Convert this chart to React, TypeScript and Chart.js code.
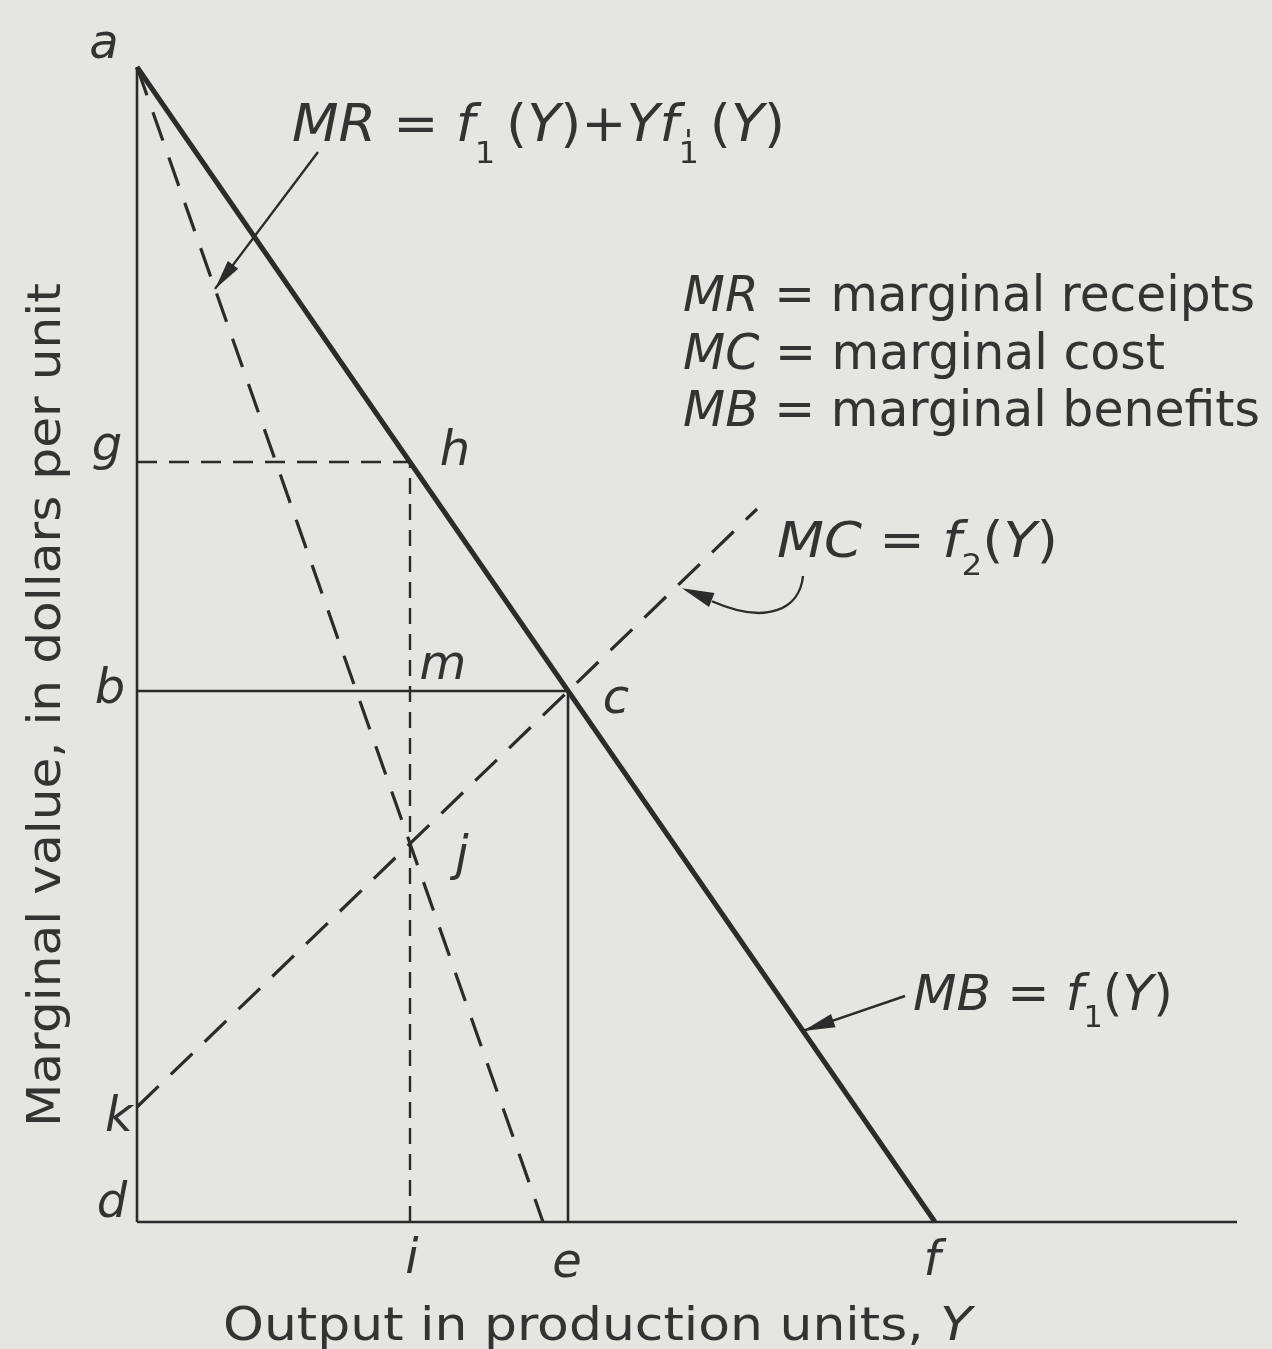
import React, { useEffect, useRef } from "react";
import { Chart, registerables } from "chart.js";

Chart.register(...registerables);

// Straight-line schedules (output Y on x, dollars per unit on y)
const MB_X = [0, 7.98]; // marginal benefits, MB = f1(Y)
const MB_Y = [11.55, 0];
const MR_X = [0, 4.06]; // marginal receipts, MR = f1(Y) + Y f1'(Y)
const MR_Y = [11.55, 0];
const MC_X = [0, 6.2]; // marginal cost, MC = f2(Y)
const MC_Y = [1.15, 7.13];

// Reference levels: g (price at h), b (price at c); outputs i and e
const PRICE_G = 7.6;
const PRICE_B = 5.31;
const OUTPUT_I = 2.73;
const OUTPUT_E = 4.31;

const AXIS_X_END = 11;
const AXIS_Y_TOP = 11.55;

const LEGEND_ROWS = [
  ["MR", "marginal receipts"],
  ["MC", "marginal cost"],
  ["MB", "marginal benefits"],
];

const BG = "#e5e5e2";
const INK = "#2b2b2b";
const TEXT_INK = "#333333";
const FONT = '"DejaVu Sans"';

type Seg = { t: string; it?: boolean; sub?: boolean; sup?: boolean; stack?: boolean; dy?: number; dx?: number };

const pts = (xs: number[], ys: number[]) => xs.map((x, i) => ({ x, y: ys[i] }));

function onLine(xs: number[], ys: number[], x: number) {
  const t = (x - xs[0]) / (xs[1] - xs[0]);
  return ys[0] + t * (ys[1] - ys[0]);
}

function segFont(s: Seg, size: number) {
  const sz = s.sub || s.sup ? Math.round(size * 0.6) : size;
  return `${s.it ? "italic " : ""}${sz}px ${FONT}`;
}

// Draws a run of mixed upright/italic/sub/superscript text squeezed to a given width
function drawRich(ctx: CanvasRenderingContext2D, segs: Seg[], x: number, y: number, size: number, width: number) {
  let natural = 0;
  for (const s of segs) {
    ctx.font = segFont(s, size);
    if (!s.stack) natural += ctx.measureText(s.t).width;
  }
  const k = width / natural;
  ctx.save();
  ctx.translate(x, y);
  ctx.scale(k, 1);
  ctx.fillStyle = TEXT_INK;
  ctx.textAlign = "left";
  ctx.textBaseline = "alphabetic";
  let cx = 0;
  for (const s of segs) {
    ctx.font = segFont(s, size);
    const dy = s.dy !== undefined ? s.dy * size : s.sub ? size * 0.38 : s.sup ? -size * 0.6 : 0;
    ctx.fillText(s.t, cx + (s.dx || 0) * size, dy);
    if (!s.stack) cx += ctx.measureText(s.t).width;
  }
  ctx.restore();
}

function arrowHead(ctx: CanvasRenderingContext2D, fromX: number, fromY: number, tipX: number, tipY: number, len: number, half: number) {
  const a = Math.atan2(tipY - fromY, tipX - fromX);
  const bx = tipX - len * Math.cos(a);
  const by = tipY - len * Math.sin(a);
  ctx.beginPath();
  ctx.moveTo(tipX, tipY);
  ctx.lineTo(bx + half * Math.sin(a), by - half * Math.cos(a));
  ctx.lineTo(bx - half * Math.sin(a), by + half * Math.cos(a));
  ctx.closePath();
  ctx.fill();
}

const annotations = {
  id: "annotations",
  beforeDraw(chart: any) {
    const { ctx, width, height } = chart;
    ctx.save();
    ctx.fillStyle = BG;
    ctx.fillRect(0, 0, width, height);
    ctx.restore();
  },
  afterDatasetsDraw(chart: any) {
    const { ctx } = chart;
    const xs = chart.scales.x;
    const ys = chart.scales.y;
    const px = (v: number) => xs.getPixelForValue(v);
    const py = (v: number) => ys.getPixelForValue(v);

    ctx.save();
    ctx.fillStyle = TEXT_INK;
    ctx.strokeStyle = INK;

    // point letters
    ctx.font = `italic 48px ${FONT}`;
    ctx.textAlign = "center";
    ctx.textBaseline = "alphabetic";
    const letter = (t: string, x: number, y: number) => ctx.fillText(t, x, y);
    letter("a", px(0) - 33, py(AXIS_Y_TOP) - 9);
    letter("g", px(0) - 30, py(PRICE_G) - 2);
    letter("b", px(0) - 27, py(PRICE_B) + 12);
    letter("k", px(0) - 18, py(MC_Y[0]) + 24);
    letter("d", px(0) - 25, py(0) - 5);
    letter("h", px(OUTPUT_I) + 45, py(PRICE_G) + 3);
    letter("m", px(OUTPUT_I) + 33, py(PRICE_B) - 12);
    letter("c", px(OUTPUT_E) + 48, py(PRICE_B) + 22);
    letter("j", px(OUTPUT_I) + 52, py(onLine(MR_X, MR_Y, OUTPUT_I)) + 26);
    letter("i", px(OUTPUT_I) + 2, py(0) + 51);
    letter("e", px(OUTPUT_E) - 1, py(0) + 55);
    letter("f", px(MB_X[1]) - 3, py(0) + 53);

    // axis titles
    ctx.save();
    ctx.translate(60, 1127);
    ctx.rotate(-Math.PI / 2);
    drawRich(ctx, [{ t: "Marginal value, in dollars per unit" }], 0, 0, 47, 844);
    ctx.restore();
    drawRich(ctx, [{ t: "Output in production units, " }, { t: "Y", it: true }], 223, 1340, 47, 749);

    // legend block
    const legendWidths = [572, 482, 577];
    LEGEND_ROWS.forEach(([abbr, text], i) => {
      drawRich(ctx, [{ t: abbr, it: true }, { t: " = " + text }], 683, 311 + i * 57.5, 50, legendWidths[i]);
    });

    // curve equations
    drawRich(
      ctx,
      [
        { t: "MR", it: true },
        { t: " = " },
        { t: "f", it: true },
        { t: "1", sub: true, dy: 0.42 },
        { t: "\u2009(" },
        { t: "Y", it: true },
        { t: ")+" },
        { t: "Y", it: true },
        { t: "f", it: true },
        { t: "'", sup: true, stack: true, dy: 0.2, dx: 0.1 },
        { t: "1", sub: true, dy: 0.42 },
        { t: "\u2009(" },
        { t: "Y", it: true },
        { t: ")" },
      ],
      292,
      141,
      52,
      493
    );
    drawRich(
      ctx,
      [{ t: "MC", it: true }, { t: " = " }, { t: "f", it: true }, { t: "2", sub: true, dy: 0.36 }, { t: "(" }, { t: "Y", it: true }, { t: ")" }],
      777,
      557,
      50,
      281
    );
    drawRich(
      ctx,
      [{ t: "MB", it: true }, { t: " = " }, { t: "f", it: true }, { t: "1", sub: true, dy: 0.34 }, { t: "(" }, { t: "Y", it: true }, { t: ")" }],
      913,
      1010,
      50,
      260
    );

    // pointer arrows
    ctx.fillStyle = INK;
    ctx.lineWidth = 2.4;
    // MR pointer
    const mrX = 0.78;
    const mrTip = { x: px(mrX), y: py(onLine(MR_X, MR_Y, mrX)) };
    const mrStart = { x: 318, y: 152 };
    ctx.beginPath();
    ctx.moveTo(mrStart.x, mrStart.y);
    ctx.lineTo(mrTip.x, mrTip.y);
    ctx.stroke();
    arrowHead(ctx, mrStart.x, mrStart.y, mrTip.x, mrTip.y, 30, 6.5);

    // MB pointer
    const mbX = 6.66;
    const mbTip = { x: px(mbX), y: py(onLine(MB_X, MB_Y, mbX)) };
    const mbStart = { x: 905, y: 996 };
    ctx.beginPath();
    ctx.moveTo(mbStart.x, mbStart.y);
    ctx.lineTo(mbTip.x, mbTip.y);
    ctx.stroke();
    arrowHead(ctx, mbStart.x, mbStart.y, mbTip.x, mbTip.y, 32, 7);

    // MC curved pointer
    const mcX = 5.43;
    const mcTip = { x: px(mcX) + 2, y: py(onLine(MC_X, MC_Y, mcX)) + 5 };
    const base = { x: mcTip.x + 30, y: mcTip.y + 13 };
    ctx.beginPath();
    ctx.moveTo(803, 576);
    ctx.bezierCurveTo(800, 608, 768, 626, base.x, base.y);
    ctx.stroke();
    arrowHead(ctx, base.x + 8, base.y + 2, mcTip.x, mcTip.y, 32, 7.5);

    ctx.restore();
  },
};

export default function App() {
  const ref = useRef<HTMLCanvasElement | null>(null);

  useEffect(() => {
    if (!ref.current) return;
    const common = { showLine: true, pointRadius: 0, borderColor: INK, fill: false, clip: false as any, tension: 0 };
    const chart = new Chart(ref.current, {
      type: "scatter",
      data: {
        datasets: [
          { ...common, label: "MB", data: pts(MB_X, MB_Y), borderWidth: 5, order: 0 },
          { ...common, label: "MR", data: pts(MR_X, MR_Y), borderWidth: 3.2, borderDash: [30, 18], order: 1 },
          { ...common, label: "MC", data: pts(MC_X, MC_Y), borderWidth: 3.2, borderDash: [30, 17], order: 2 },
          { ...common, label: "b-c", data: [{ x: 0, y: PRICE_B }, { x: OUTPUT_E, y: PRICE_B }], borderWidth: 2.6, order: 3 },
          { ...common, label: "c-e", data: [{ x: OUTPUT_E, y: PRICE_B }, { x: OUTPUT_E, y: 0 }], borderWidth: 2.6, order: 4 },
          { ...common, label: "g-h", data: [{ x: 0, y: PRICE_G }, { x: OUTPUT_I, y: PRICE_G }], borderWidth: 2.4, borderDash: [20, 12], order: 5 },
          { ...common, label: "i-h", data: [{ x: OUTPUT_I, y: 0 }, { x: OUTPUT_I, y: PRICE_G }], borderWidth: 2.4, borderDash: [16, 10], order: 6 },
          { ...common, label: "y-axis", data: [{ x: 0, y: 0 }, { x: 0, y: AXIS_Y_TOP }], borderWidth: 2.6, order: 7 },
          { ...common, label: "x-axis", data: [{ x: 0, y: 0 }, { x: AXIS_X_END, y: 0 }], borderWidth: 2.6, order: 8 },
        ],
      },
      options: {
        responsive: false,
        animation: false,
        devicePixelRatio: 1,
        layout: { padding: { left: 137, right: 35, top: 62, bottom: 127 } },
        scales: {
          x: { type: "linear", min: 0, max: AXIS_X_END, display: false },
          y: { type: "linear", min: 0, max: 11.6, display: false },
        },
        plugins: { legend: { display: false }, tooltip: { enabled: false } },
        events: [],
      },
      plugins: [annotations],
    });
    return () => chart.destroy();
  }, []);

  return (
    <div style={{ position: "fixed", left: 0, top: 0, width: 1272, height: 1349, background: BG }}>
      <canvas ref={ref} width={1272} height={1349} style={{ display: "block" }} />
    </div>
  );
}
